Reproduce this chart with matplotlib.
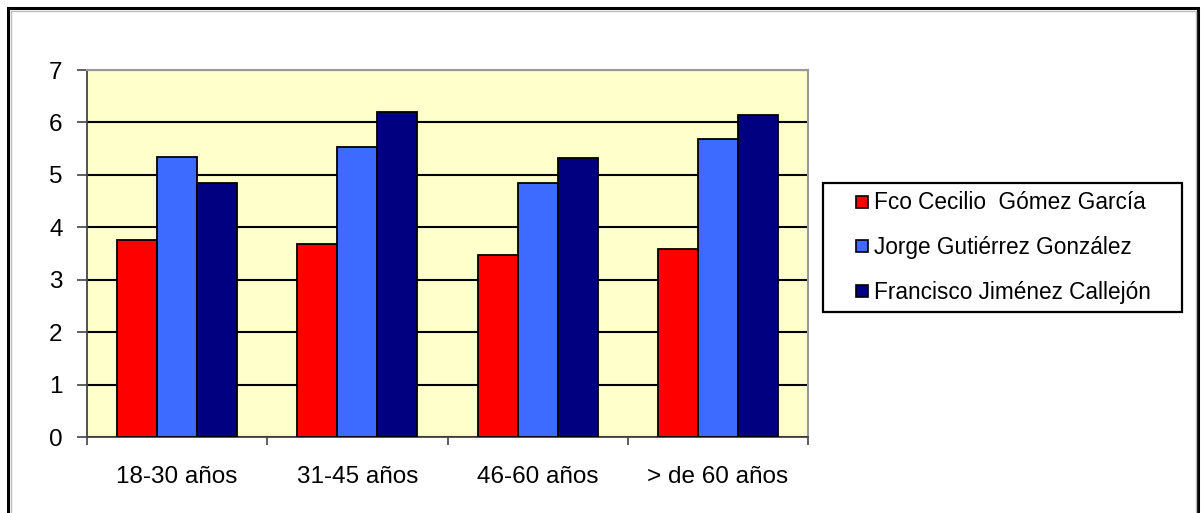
import matplotlib
matplotlib.use("Agg")
import matplotlib.pyplot as plt
import numpy as np
from matplotlib.patches import Rectangle
from matplotlib.lines import Line2D

plt.rcParams['font.family'] = ['Liberation Sans', 'DejaVu Sans']

#### data
categories = ['18-30 años', '31-45 años', '46-60 años', '> de 60 años']
series_names = ['Fco Cecilio  Gómez García',
                'Jorge Gutiérrez González',
                'Francisco Jiménez Callejón']
fco = [3.75, 3.69, 3.47, 3.59]
jorge = [5.35, 5.54, 4.84, 5.69]
francisco = [4.84, 6.19, 5.33, 6.14]
colors = ['#FF0000', '#3D6BFF', '#000080']

W, H = 1204, 513
fig = plt.figure(figsize=(W / 100, H / 100), dpi=100)

ax = fig.add_axes([87 / W, 1 - 437 / H, (808 - 87) / W, (437 - 70) / H])
ax.set_facecolor('#FFFFCC')

x = np.arange(len(categories))
bw = 0.222
for i, (vals, name) in enumerate(zip([fco, jorge, francisco], series_names)):
    ax.bar(x + (i - 1) * bw, vals, width=bw, color=colors[i],
           edgecolor='black', linewidth=1.3, label=name, zorder=3)

ax.set_xlim(-0.5, len(categories) - 0.5)
ax.set_ylim(0, 7)
ax.set_yticks(range(8))
ax.yaxis.grid(True, color='black', linewidth=1.5, zorder=1)
ax.set_axisbelow(True)

# category boundaries carry the x ticks
ax.set_xticks(np.arange(-0.5, len(categories), 1.0))
ax.set_xticklabels([])
ax.set_xticks(x, minor=True)
ax.set_xticklabels(categories, minor=True, fontsize=17.5)
ax.tick_params(axis='x', which='minor', length=0, pad=21)
ax.tick_params(axis='x', which='major', length=6, width=1.2, color='#444444')
ax.tick_params(axis='y', length=7.5, width=1.2, color='#444444', labelsize=17.5, pad=10)

for s in ['left', 'bottom']:
    ax.spines[s].set_color('#444444')
    ax.spines[s].set_linewidth(1.3)
for s in ['top', 'right']:
    ax.spines[s].set_color('#999999')
    ax.spines[s].set_linewidth(1.5)

# legend: entries without frame, box drawn separately
handles = [Line2D([0], [0], marker='s', linestyle='none', markersize=9,
                  markerfacecolor=c, markeredgecolor='black', markeredgewidth=1.2)
           for c in colors]
leg = fig.legend(handles, series_names, loc='center',
                 bbox_to_anchor=((823 + 1182) / 2 / W, 1 - (183 + 312) / 2 / H),
                 fontsize=16.3, frameon=False,
                 handlelength=0.7, handletextpad=0.15, labelspacing=0.95,
                 borderpad=0, borderaxespad=0)
fig.patches.append(Rectangle((823 / W, 1 - 312 / H), (1182 - 823) / W, (312 - 183) / H,
                             transform=fig.transFigure, fill=False,
                             edgecolor='black', linewidth=1.6))

# outer chart border
fig.patches.append(Rectangle((7.5 / W, -0.1), (1197.5 - 7.5) / W, 1.1 - 8 / H,
                             transform=fig.transFigure, fill=False,
                             edgecolor='black', linewidth=2.2))
fig.patches.append(Rectangle((10.5 / W, -0.1), (1195.5 - 10.5) / W, 1.1 - 11 / H,
                             transform=fig.transFigure, fill=False,
                             edgecolor='#BBBBBB', linewidth=1))

fig.savefig('out.png', dpi=100)
